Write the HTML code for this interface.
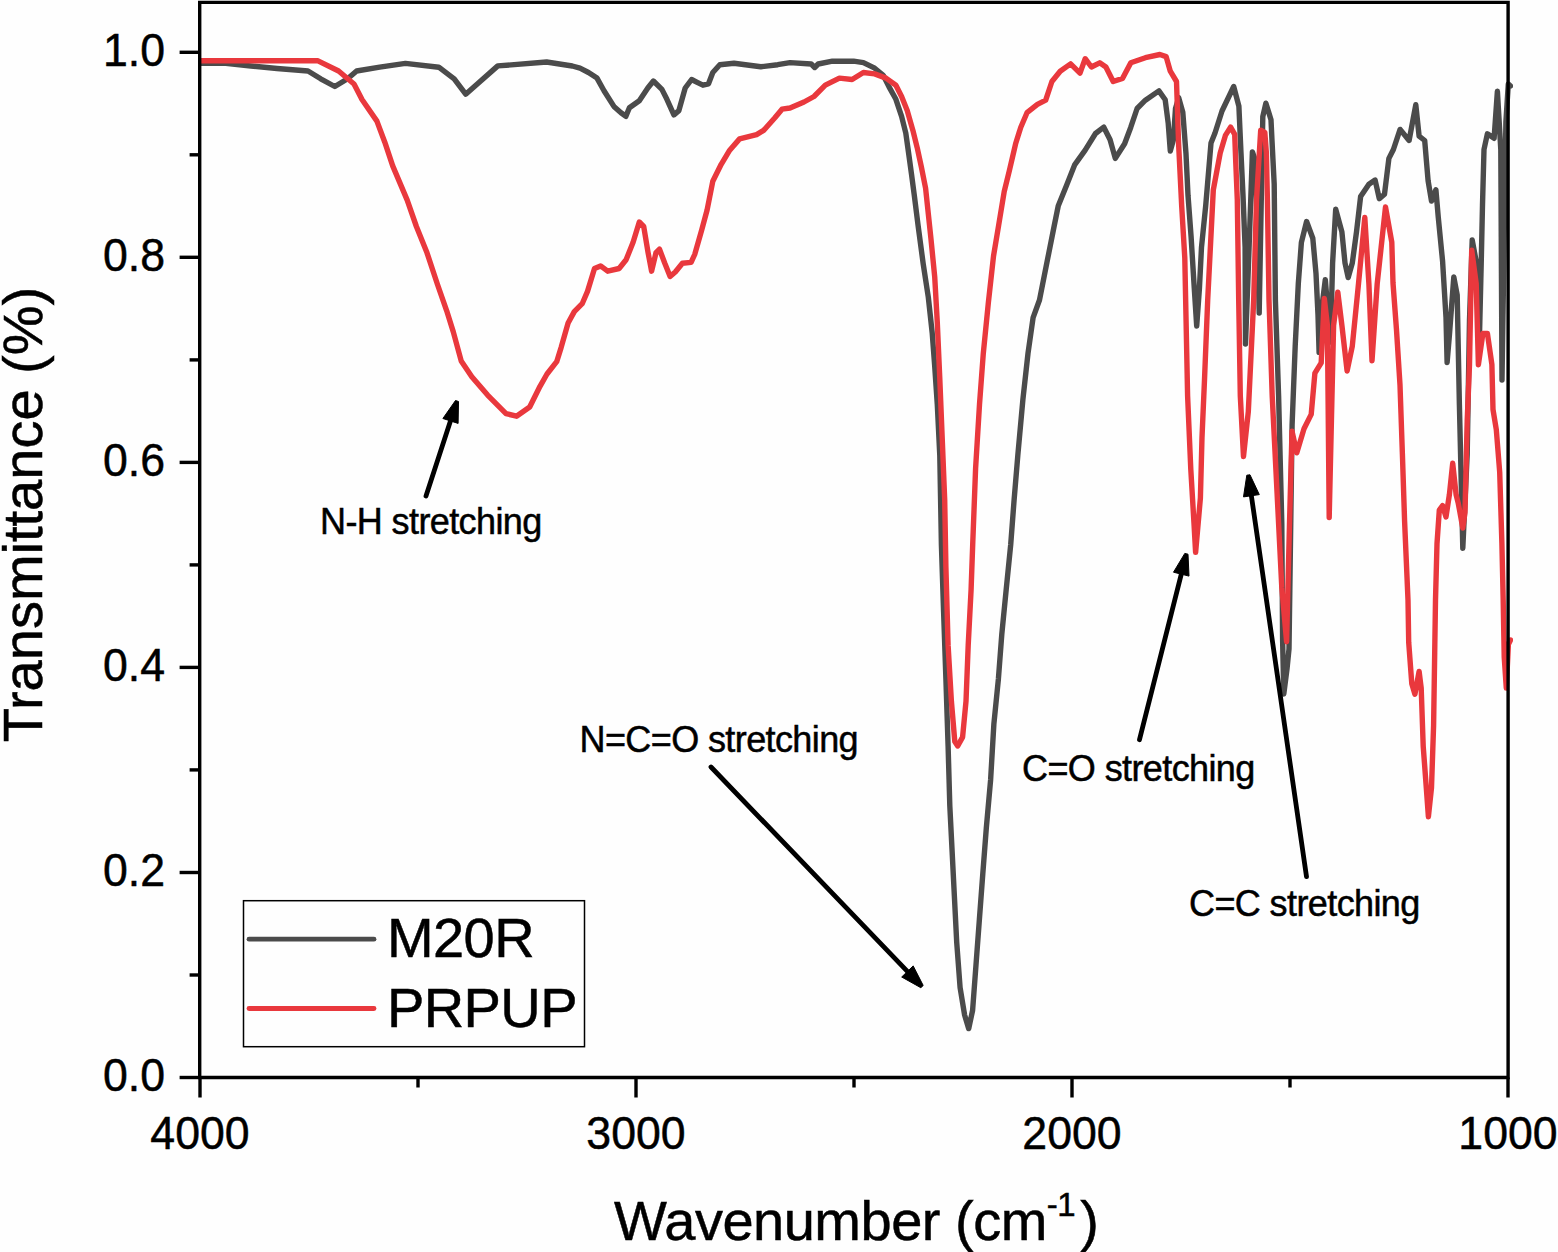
<!DOCTYPE html><html><head><meta charset="utf-8"><style>html,body{margin:0;padding:0;background:#fff;}svg{display:block}text{font-family:"Liberation Sans",sans-serif;fill:#000;stroke:#000;stroke-width:0.5px}</style></head><body>
<svg width="1558" height="1252" viewBox="0 0 1558 1252">
<rect width="1558" height="1252" fill="#fefefe"/>
<defs><clipPath id="c"><rect x="200" y="2" width="1313" height="1076"/></clipPath></defs>
<g clip-path="url(#c)" fill="none" stroke-width="5.4" stroke-linejoin="round" stroke-linecap="round">
<path d="M200.0 63.4 L225.7 63.4 L251.0 66.0 L277.0 68.5 L308.0 71.0 L320.7 78.8 L334.8 86.5 L347.6 78.8 L356.6 71.0 L379.7 67.2 L405.4 63.4 L438.8 67.2 L454.2 78.8 L465.7 94.2 L477.3 83.9 L497.8 65.9 L546.6 62.0 L572.3 66.0 L580.0 68.2 L588.5 72.5 L597.0 78.1 L604.0 90.8 L613.9 106.4 L621.0 112.7 L625.9 116.3 L629.4 107.8 L639.3 100.7 L647.8 88.0 L653.4 81.0 L661.9 89.4 L666.9 99.3 L673.9 114.9 L678.9 110.6 L685.2 88.0 L691.6 79.5 L697.2 82.4 L702.9 85.2 L708.5 83.8 L712.8 72.5 L719.8 64.7 L734.0 63.3 L760.8 66.8 L777.7 64.7 L790.0 62.6 L811.2 64.0 L814.7 67.5 L818.2 64.0 L832.4 61.2 L853.6 61.2 L863.4 62.6 L874.7 68.2 L883.2 75.3 L888.9 86.6 L895.9 99.3 L901.6 116.3 L905.8 133.2 L908.6 153.0 L911.5 174.2 L914.3 195.4 L918.1 225.6 L923.2 263.9 L928.3 297.1 L932.2 332.9 L934.7 366.1 L937.3 404.5 L939.8 455.6 L941.4 544.7 L943.6 611.8 L945.9 678.9 L948.1 746.0 L949.8 805.5 L952.1 851.0 L954.4 896.6 L956.7 942.1 L960.1 987.6 L964.6 1015.0 L968.7 1028.6 L972.6 1010.4 L976.0 964.9 L979.4 919.3 L982.8 873.8 L986.3 828.3 L990.6 780.0 L993.9 723.7 L998.4 678.9 L1001.8 634.2 L1006.2 589.5 L1010.7 544.7 L1014.1 500.0 L1017.8 455.6 L1022.9 399.4 L1028.0 353.4 L1033.1 317.6 L1039.5 300.0 L1047.8 258.1 L1054.0 226.9 L1058.2 206.1 L1066.5 185.4 L1074.8 164.6 L1085.2 150.1 L1095.5 133.5 L1103.8 127.2 L1110.1 139.7 L1115.3 158.4 L1124.6 143.8 L1130.8 127.2 L1137.1 108.5 L1145.4 100.2 L1158.9 90.9 L1165.2 99.8 L1168.2 123.1 L1170.3 151.0 L1173.4 139.7 L1175.5 108.5 L1178.7 97.7 L1182.8 112.3 L1186.0 153.8 L1188.0 195.3 L1191.1 236.8 L1194.3 288.7 L1196.7 326.0 L1199.4 288.7 L1201.5 247.2 L1205.7 205.7 L1211.0 143.0 L1215.0 133.0 L1222.0 111.0 L1233.7 86.5 L1238.9 106.3 L1241.0 153.1 L1243.0 195.3 L1245.1 247.2 L1245.5 344.0 L1249.0 250.0 L1252.4 152.0 L1255.5 161.0 L1259.2 313.0 L1262.8 116.7 L1265.9 103.2 L1271.0 119.8 L1272.1 142.7 L1274.2 184.2 L1275.4 300.0 L1278.6 395.8 L1281.8 523.6 L1282.6 640.0 L1283.8 694.0 L1287.0 669.0 L1289.0 649.0 L1292.1 425.0 L1295.2 346.1 L1298.3 283.8 L1301.4 242.3 L1306.6 221.5 L1312.8 238.2 L1316.0 273.5 L1318.0 315.0 L1319.1 352.4 L1322.2 304.6 L1325.3 279.7 L1330.5 342.0 L1332.6 263.0 L1335.7 209.1 L1341.9 231.9 L1345.0 263.0 L1348.2 277.6 L1352.3 263.0 L1356.5 231.9 L1360.6 196.6 L1368.9 184.2 L1375.1 180.0 L1379.3 198.7 L1384.5 194.2 L1388.9 158.4 L1393.4 149.5 L1400.1 129.4 L1409.1 140.5 L1415.8 104.7 L1419.1 136.1 L1424.7 140.5 L1428.1 180.8 L1431.5 201.0 L1435.9 189.8 L1438.2 216.6 L1442.6 261.3 L1446.0 317.3 L1447.1 362.5 L1449.4 335.2 L1453.8 277.0 L1457.2 294.9 L1459.4 405.0 L1462.8 548.2 L1467.2 454.2 L1469.5 320.0 L1472.2 240.0 L1476.5 263.0 L1479.5 335.0 L1481.3 260.0 L1482.5 205.0 L1484.0 149.5 L1487.4 133.8 L1494.1 138.3 L1497.4 91.3 L1500.8 149.5 L1502.0 380.0 L1505.9 122.0 L1508.3 84.0 L1510.5 86.0" stroke="#4b4b4b"/>
<path d="M200.0 60.8 L318.0 60.8 L338.6 71.0 L354.0 84.0 L362.0 99.5 L376.9 121.1 L384.8 142.2 L392.7 165.9 L407.2 200.1 L416.4 226.5 L427.0 252.8 L437.5 284.5 L446.7 310.8 L453.3 331.9 L461.2 360.9 L471.8 376.7 L487.6 395.1 L506.0 413.6 L516.5 416.2 L529.7 407.0 L540.0 386.3 L547.0 374.0 L556.7 361.7 L561.1 347.6 L568.1 323.0 L574.3 311.6 L582.2 303.7 L587.5 291.4 L594.5 268.5 L600.6 265.9 L607.7 271.2 L619.1 268.5 L626.1 259.8 L633.1 242.2 L639.3 222.0 L643.7 226.4 L648.1 252.7 L651.6 271.2 L656.0 252.7 L659.5 249.2 L664.8 263.3 L670.1 276.4 L675.3 272.0 L682.4 263.3 L691.1 262.4 L694.7 254.5 L701.7 229.9 L707.1 210.0 L712.8 181.2 L721.2 164.3 L729.7 150.2 L739.6 138.9 L756.6 134.6 L763.6 130.4 L774.9 117.7 L782.0 109.2 L790.0 108.0 L804.0 102.0 L814.0 96.5 L825.3 85.2 L839.4 78.1 L852.1 79.5 L863.4 72.5 L874.7 73.9 L886.0 78.1 L895.9 85.2 L901.6 96.5 L907.2 110.6 L912.9 130.4 L917.1 147.3 L921.4 167.1 L925.6 188.3 L930.9 238.3 L934.7 276.7 L937.3 322.7 L939.8 378.9 L942.4 442.8 L944.7 500.0 L945.9 567.1 L948.1 645.4 L951.4 701.3 L954.8 741.6 L957.7 746.0 L962.6 737.1 L966.0 701.3 L968.2 645.4 L971.1 589.5 L972.7 544.7 L975.6 468.4 L979.5 404.5 L983.3 353.4 L988.4 302.2 L993.5 256.2 L998.6 225.6 L1004.2 191.6 L1009.3 170.8 L1015.6 143.8 L1020.8 127.2 L1027.0 112.7 L1037.4 104.4 L1045.7 100.2 L1051.9 81.5 L1060.2 71.2 L1070.6 63.9 L1080.0 73.2 L1085.2 58.7 L1091.4 67.0 L1099.7 62.8 L1105.9 67.0 L1113.2 81.5 L1122.5 78.4 L1130.8 62.8 L1145.4 57.7 L1159.9 54.5 L1166.1 56.6 L1170.3 71.2 L1176.5 81.5 L1178.6 143.8 L1181.7 206.1 L1184.8 258.1 L1187.6 395.8 L1190.8 469.3 L1194.0 523.6 L1195.6 552.4 L1200.4 498.0 L1202.0 437.4 L1204.5 379.9 L1207.7 300.0 L1213.3 190.0 L1220.2 153.1 L1225.4 135.4 L1230.6 127.1 L1234.7 134.4 L1235.8 163.5 L1237.3 200.0 L1238.7 300.0 L1240.3 395.8 L1243.5 456.5 L1248.3 411.8 L1253.7 300.0 L1256.5 200.0 L1260.7 130.2 L1264.8 132.3 L1266.4 153.1 L1267.4 200.0 L1269.0 300.0 L1272.2 395.8 L1277.0 491.7 L1281.8 587.5 L1286.6 641.8 L1289.6 520.0 L1292.0 431.2 L1296.8 452.8 L1304.0 428.8 L1311.2 414.4 L1314.9 373.1 L1321.2 362.8 L1324.3 298.4 L1327.4 325.4 L1329.2 517.5 L1333.6 325.4 L1337.8 292.1 L1341.9 325.4 L1347.1 371.0 L1352.3 346.1 L1358.5 283.8 L1364.8 217.4 L1368.9 283.8 L1372.0 360.7 L1377.2 283.8 L1385.5 207.0 L1391.8 242.3 L1393.0 283.0 L1396.5 330.0 L1400.0 385.0 L1402.4 454.2 L1404.6 521.3 L1408.0 600.0 L1408.7 642.3 L1411.8 683.8 L1414.9 694.2 L1419.1 671.4 L1421.2 688.0 L1423.2 746.1 L1426.3 787.7 L1428.4 816.8 L1431.5 787.7 L1433.6 725.4 L1434.7 652.7 L1435.5 600.0 L1437.0 543.7 L1439.3 510.2 L1442.6 505.7 L1446.0 516.9 L1449.4 494.5 L1452.7 463.2 L1456.1 494.5 L1458.3 503.4 L1462.8 528.0 L1465.0 512.4 L1467.2 420.7 L1469.5 364.7 L1471.7 250.2 L1476.2 283.7 L1478.4 364.7 L1482.9 333.4 L1487.4 333.4 L1491.9 364.7 L1493.0 409.5 L1496.3 429.6 L1499.7 472.1 L1501.9 543.7 L1503.2 600.8 L1504.2 656.8 L1506.3 688.0 L1508.4 644.4 L1510.5 640.0" stroke="#e9383d"/>
</g>
<g stroke="#000" stroke-width="3.4" fill="none">
<path d="M199.7 2.4 L1508.1 2.4 L1508.1 1077.5 L199.7 1077.5 Z"/>
<path d="M179.6 1077.5 L199.6 1077.5"/>
<path d="M189.6 975.0 L199.6 975.0"/>
<path d="M179.6 872.5 L199.6 872.5"/>
<path d="M189.6 769.9 L199.6 769.9"/>
<path d="M179.6 667.4 L199.6 667.4"/>
<path d="M189.6 564.9 L199.6 564.9"/>
<path d="M179.6 462.4 L199.6 462.4"/>
<path d="M189.6 359.9 L199.6 359.9"/>
<path d="M179.6 257.3 L199.6 257.3"/>
<path d="M189.6 154.8 L199.6 154.8"/>
<path d="M179.6 52.3 L199.6 52.3"/>
<path d="M200.0 1077.5 L200.0 1097.5"/>
<path d="M418.0 1077.5 L418.0 1087.5"/>
<path d="M636.0 1077.5 L636.0 1097.5"/>
<path d="M854.0 1077.5 L854.0 1087.5"/>
<path d="M1072.0 1077.5 L1072.0 1097.5"/>
<path d="M1290.0 1077.5 L1290.0 1087.5"/>
<path d="M1508.0 1077.5 L1508.0 1097.5"/>
</g>
<text transform="translate(165,1091.3) scale(0.95,1)" font-size="47" text-anchor="end">0.0</text>
<text transform="translate(165,886.3) scale(0.95,1)" font-size="47" text-anchor="end">0.2</text>
<text transform="translate(165,681.2) scale(0.95,1)" font-size="47" text-anchor="end">0.4</text>
<text transform="translate(165,476.2) scale(0.95,1)" font-size="47" text-anchor="end">0.6</text>
<text transform="translate(165,271.1) scale(0.95,1)" font-size="47" text-anchor="end">0.8</text>
<text transform="translate(165,66.1) scale(0.95,1)" font-size="47" text-anchor="end">1.0</text>
<text transform="translate(200.0,1148.5) scale(0.95,1)" font-size="47" text-anchor="middle">4000</text>
<text transform="translate(636.0,1148.5) scale(0.95,1)" font-size="47" text-anchor="middle">3000</text>
<text transform="translate(1072.0,1148.5) scale(0.95,1)" font-size="47" text-anchor="middle">2000</text>
<text transform="translate(1508.0,1148.5) scale(0.95,1)" font-size="47" text-anchor="middle">1000</text>
<text transform="translate(42,514.5) rotate(-90)" font-size="56" text-anchor="middle">Transmittance (%)</text>
<text x="614" y="1240" font-size="56" letter-spacing="-0.5">Wavenumber (cm<tspan font-size="33" dy="-24">-1</tspan><tspan dy="24" dx="5">)</tspan></text>
<rect x="243.5" y="900.7" width="341" height="146" fill="none" stroke="#000" stroke-width="1.5"/>
<path d="M249 939.2 L374 939.2" stroke="#4b4b4b" stroke-width="4.8" stroke-linecap="round"/>
<path d="M249 1008.5 L374 1008.5" stroke="#e9383d" stroke-width="4.8" stroke-linecap="round"/>
<text x="387" y="957.2" font-size="56" letter-spacing="-0.6">M20R</text>
<text x="387" y="1027.3" font-size="56" letter-spacing="-0.6">PRPUP</text>
<path d="M426.0 496.0 L451.1 419.1" stroke="#000" stroke-width="4.8" stroke-linecap="round"/>
<path d="M458.5 401.5 L458.1 423.4 L442.9 418.5 L455.5 400.5 Z" fill="#000" stroke="#000" stroke-width="1" stroke-linejoin="round"/>
<path d="M711.0 767.0 L908.8 972.9" stroke="#000" stroke-width="4.8" stroke-linecap="round"/>
<path d="M920.8 987.7 L901.7 977.0 L913.2 965.9 L923.2 985.5 Z" fill="#000" stroke="#000" stroke-width="1" stroke-linejoin="round"/>
<path d="M1139.5 739.7 L1181.8 572.2" stroke="#000" stroke-width="4.8" stroke-linecap="round"/>
<path d="M1188.0 554.2 L1189.0 576.1 L1173.5 572.2 L1184.8 553.4 Z" fill="#000" stroke="#000" stroke-width="1" stroke-linejoin="round"/>
<path d="M1306.5 876.7 L1251.1 493.8" stroke="#000" stroke-width="4.8" stroke-linecap="round"/>
<path d="M1250.0 474.8 L1259.3 494.6 L1243.5 496.9 L1246.8 475.2 Z" fill="#000" stroke="#000" stroke-width="1" stroke-linejoin="round"/>
<text x="320" y="534.4" font-size="36" letter-spacing="-0.6">N-H stretching</text>
<text x="579.5" y="751.7" font-size="36" letter-spacing="-0.6">N=C=O stretching</text>
<text x="1022" y="781" font-size="36" letter-spacing="-0.6">C=O stretching</text>
<text x="1189" y="916" font-size="36" letter-spacing="-0.6">C=C stretching</text>
</svg></body></html>
